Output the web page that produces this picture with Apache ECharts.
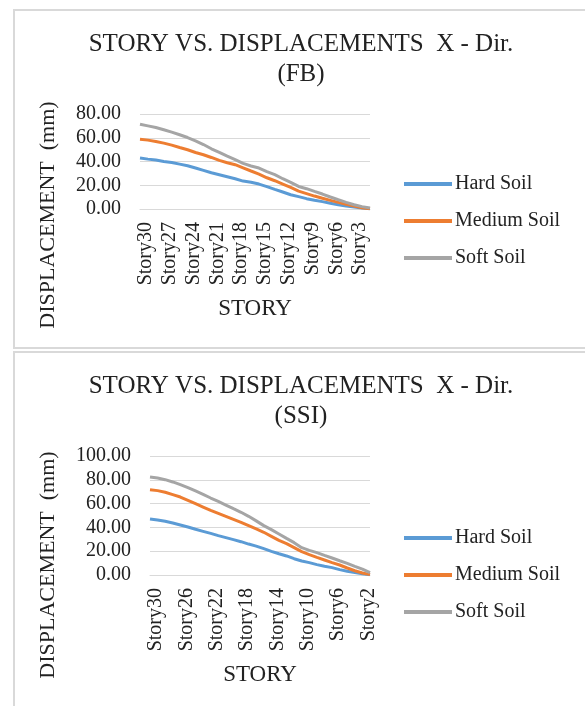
<!DOCTYPE html>
<html>
<head>
<meta charset="utf-8">
<script src="https://cdn.jsdelivr.net/npm/echarts@6/dist/echarts.min.js"></script>
<style>
  html, body { margin: 0; padding: 0; background: #fff; }
  #chart { width: 585px; height: 706px; }
</style>
</head>
<body>
<div id="chart"></div>
<script>
// stories, top floor first
const stories = ['Story30', 'Story29', 'Story28', 'Story27', 'Story26', 'Story25', 'Story24', 'Story23', 'Story22', 'Story21',
  'Story20', 'Story19', 'Story18', 'Story17', 'Story16', 'Story15', 'Story14', 'Story13', 'Story12', 'Story11',
  'Story10', 'Story9', 'Story8', 'Story7', 'Story6', 'Story5', 'Story4', 'Story3', 'Story2', 'Story1'];

// fixed base (FB), mm
const fbHard = [42.9, 42.0, 41.2, 40.0, 39.2, 37.8, 36.4, 34.5, 32.5, 30.5, 28.9, 27.2, 25.5, 23.5, 22.5,
  21.0, 18.8, 16.5, 14.3, 12.0, 10.4, 8.7, 7.3, 6.2, 4.8, 3.6, 2.5, 1.7, 0.8, 0.3];
const fbMedium = [58.8, 58.0, 56.9, 55.5, 53.8, 51.8, 49.9, 47.6, 45.7, 43.4, 40.9, 38.9, 37.3, 34.7, 32.0,
  29.4, 26.3, 23.8, 21.0, 18.2, 15.0, 13.0, 10.9, 9.0, 7.3, 5.6, 3.9, 2.5, 1.1, 0.3];
const fbSoft = [71.4, 70.0, 68.6, 66.7, 64.7, 62.5, 60.2, 57.4, 54.3, 50.7, 47.6, 44.5, 41.5, 38.4, 36.2,
  34.5, 31.4, 28.9, 25.5, 22.4, 19.0, 17.1, 14.8, 12.6, 10.1, 7.8, 5.6, 3.6, 2.0, 0.8];

// soil structure interaction (SSI), mm
const ssiHard = [47.1, 46.2, 45.1, 43.7, 42.0, 40.3, 38.4, 36.7, 35.0, 33.1, 31.4, 29.7, 28.0, 26.0, 24.3,
  22.1, 19.9, 17.9, 16.0, 13.7, 11.8, 10.4, 8.7, 7.3, 6.2, 4.5, 3.1, 2.0, 1.1, 0.3];
const ssiMedium = [71.7, 70.9, 69.5, 67.5, 65.5, 62.7, 59.9, 57.1, 54.3, 51.8, 49.3, 46.8, 44.3, 41.5, 38.7,
  35.9, 32.5, 29.1, 26.3, 23.0, 19.6, 17.1, 14.8, 12.6, 10.4, 8.4, 5.9, 3.6, 1.7, 0.3];
const ssiSoft = [82.4, 81.5, 80.1, 78.2, 75.9, 73.4, 70.6, 67.8, 64.7, 61.9, 58.8, 55.7, 52.7, 49.3, 45.5,
  41.5, 38.1, 34.5, 30.8, 27.2, 23.0, 20.7, 18.8, 16.5, 14.3, 12.0, 9.8, 7.3, 5.0, 2.0];

const seriesNames = ['Hard Soil', 'Medium Soil', 'Soft Soil'];
const colors = ['#5B9BD5', '#ED7D31', '#A5A5A5'];
const titles = ['STORY VS. DISPLACEMENTS  X - Dir.\n(FB)', 'STORY VS. DISPLACEMENTS  X - Dir.\n(SSI)'];

const FONT = "'Liberation Serif', 'Times New Roman', serif";
const TXT = '#222';

const myChart = echarts.init(document.getElementById('chart'));

const makeX = (gridIndex, interval) => ({
  type: 'category',
  gridIndex,
  data: stories,
  boundaryGap: false,
  axisTick: { show: false },
  axisLine: { lineStyle: { color: '#d9d9d9', width: 1 } },
  axisLabel: {
    interval,
    rotate: 90,
    margin: 13,
    verticalAlign: 'top',
    lineHeight: 12,
    fontFamily: FONT,
    fontSize: 20,
    color: TXT
  },
  name: 'STORY',
  nameLocation: 'middle',
  nameGap: 88,
  nameTextStyle: { fontFamily: FONT, fontSize: 23, color: TXT }
});

const makeY = (gridIndex, max) => ({
  type: 'value',
  gridIndex,
  min: 0,
  max,
  interval: 20,
  axisLine: { show: false },
  axisTick: { show: false },
  splitLine: { lineStyle: { color: '#d9d9d9', width: 1 } },
  axisLabel: {
    margin: 19,
    fontFamily: FONT,
    fontSize: 20,
    color: TXT,
    formatter: v => v.toFixed(2)
  }
});

const makeSeries = (idx, data) => data.map((d, i) => ({
  type: 'line',
  name: seriesNames[i],
  xAxisIndex: idx,
  yAxisIndex: idx,
  data: d,
  symbol: 'none',
  color: colors[i],
  lineStyle: { width: 3, color: colors[i] }
}));

const makeLegend = (top) => ({
  orient: 'vertical',
  left: 404,
  top,
  padding: 0,
  data: seriesNames,
  icon: 'rect',
  itemWidth: 48,
  itemHeight: 4,
  itemGap: 17,
  textStyle: { fontFamily: FONT, fontSize: 20, color: TXT, padding: [0, 0, 0, -2] }
});

const yName = (y) => ({
  type: 'text',
  x: 48,
  y,
  rotation: Math.PI / 2,
  style: {
    text: 'DISPLACEMENT  (mm)',
    fontFamily: FONT,
    fontSize: 22,
    fill: TXT,
    align: 'center',
    verticalAlign: 'middle'
  }
});

const option = {
  animation: false,
  title: titles.map((t, i) => ({
    text: t,
    left: 296,
    top: i === 0 ? 24 : 366,
    textAlign: 'center',
    textStyle: { fontFamily: FONT, fontSize: 25, fontWeight: 'normal', color: TXT, lineHeight: 30 }
  })),
  legend: [makeLegend(174), makeLegend(528)],
  grid: [
    { left: 140, top: 114, width: 230, height: 95 },
    { left: 150, top: 456, width: 220, height: 119 }
  ],
  xAxis: [makeX(0, 2), makeX(1, 3)],
  yAxis: [makeY(0, 80), makeY(1, 100)],
  series: [
    ...makeSeries(0, [fbHard, fbMedium, fbSoft]),
    ...makeSeries(1, [ssiHard, ssiMedium, ssiSoft])
  ],
  graphic: [
    { type: 'rect', shape: { x: 14, y: 10, width: 600, height: 338 }, style: { fill: 'none', stroke: '#d9d9d9', lineWidth: 2 } },
    { type: 'rect', shape: { x: 14, y: 352, width: 600, height: 400 }, style: { fill: 'none', stroke: '#d9d9d9', lineWidth: 2 } },
    yName(215),
    yName(565)
  ]
};

myChart.setOption(option);

window.addEventListener('resize', () => {
  myChart.resize();
});
</script>
</body>
</html>
